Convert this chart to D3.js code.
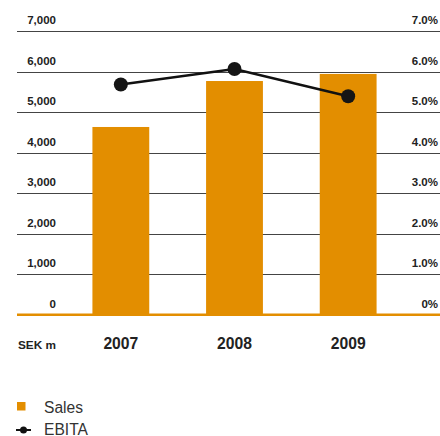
<!DOCTYPE html>
<html>
<head>
<meta charset="utf-8">
<script src="https://cdn.jsdelivr.net/npm/d3@7"></script>
<style>
  html, body { margin: 0; padding: 0; background: #fff; }
  svg { display: block; font-family: "Liberation Sans", Arial, sans-serif; }
</style>
</head>
<body>
<svg id="chart" width="440" height="436"></svg>
<script>
// Sales (SEK m) as bars, EBITA margin (%) as a line on the right axis
const years = ["2007", "2008", "2009"];
const sales = [4630, 5765, 5940];
const ebita = [5.68, 6.06, 5.39];
const salesTicks = [0, 1000, 2000, 3000, 4000, 5000, 6000, 7000];
const pctTicks = [0, 1, 2, 3, 4, 5, 6, 7];

const orange = "#E38E00";
const ink = "#222";

const svg = d3.select("#chart");
const plotLeft = 17, plotRight = 440, plotTop = 31, plotBottom = 314.5;

const x = d3.scaleBand().domain(years).range([64, 405]).paddingInner(0.5).paddingOuter(0.25);
const y = d3.scaleLinear().domain([0, 7000]).range([plotBottom, plotTop]);
const yPct = d3.scaleLinear().domain([0, 7]).range([plotBottom, plotTop]);

// horizontal gridlines (zero is drawn as the orange baseline)
svg.append("g").selectAll("line").data(salesTicks.filter(d => d > 0)).join("line")
  .attr("x1", plotLeft).attr("x2", plotRight)
  .attr("y1", d => Math.round(y(d)) + 0.5).attr("y2", d => Math.round(y(d)) + 0.5)
  .attr("stroke", "#444").attr("stroke-width", 1);

// left tick labels
svg.append("g").selectAll("text").data(salesTicks).join("text")
  .attr("x", 56).attr("y", d => y(d) - 7)
  .attr("text-anchor", "end").attr("font-size", 11.5).attr("font-weight", "bold")
  .attr("fill", ink)
  .text(d => d3.format(",")(d));

// right tick labels
svg.append("g").selectAll("text").data(pctTicks).join("text")
  .attr("x", 438).attr("y", d => yPct(d) - 7)
  .attr("text-anchor", "end").attr("font-size", 11.5).attr("font-weight", "bold")
  .attr("fill", ink)
  .text(d => d === 0 ? "0%" : d.toFixed(1) + "%");

// bars
svg.append("g").selectAll("rect").data(years).join("rect")
  .attr("x", d => x(d)).attr("width", x.bandwidth())
  .attr("y", (d, i) => y(sales[i])).attr("height", (d, i) => y(0) - y(sales[i]))
  .attr("fill", orange);

// baseline
svg.append("rect").attr("x", plotLeft).attr("width", plotRight - plotLeft)
  .attr("y", y(0) - 1).attr("height", 2.5).attr("fill", orange);

// EBITA line
const line = d3.line().x((d, i) => x(years[i]) + x.bandwidth() / 2).y(d => yPct(d));
svg.append("path").datum(ebita).attr("d", line)
  .attr("fill", "none").attr("stroke", "#111").attr("stroke-width", 2.5);
svg.append("g").selectAll("circle").data(ebita).join("circle")
  .attr("cx", (d, i) => x(years[i]) + x.bandwidth() / 2).attr("cy", d => yPct(d))
  .attr("r", 7).attr("fill", "#151515");

// category labels
svg.append("g").selectAll("text").data(years).join("text")
  .attr("x", d => x(d) + x.bandwidth() / 2).attr("y", 349.3)
  .attr("text-anchor", "middle").attr("font-size", 15.7).attr("font-weight", "bold")
  .attr("fill", ink).text(d => d);

svg.append("text").attr("x", 18).attr("y", 348.7)
  .attr("font-size", 11.8).attr("font-weight", "bold").attr("fill", ink).text("SEK m");

// legend
const lg = svg.append("g");
lg.append("rect").attr("x", 17).attr("y", 402).attr("width", 8.5).attr("height", 8.5).attr("fill", orange);
lg.append("text").attr("x", 44).attr("y", 412.5).attr("font-size", 15.6).attr("fill", "#333").text("Sales");
lg.append("line").attr("x1", 16).attr("x2", 31).attr("y1", 430).attr("y2", 430)
  .attr("stroke", "#111").attr("stroke-width", 2);
lg.append("circle").attr("cx", 23.5).attr("cy", 430).attr("r", 3.5).attr("fill", "#111");
lg.append("text").attr("x", 44).attr("y", 434.5).attr("font-size", 15.6).attr("fill", "#333").text("EBITA");
</script>
</body>
</html>
